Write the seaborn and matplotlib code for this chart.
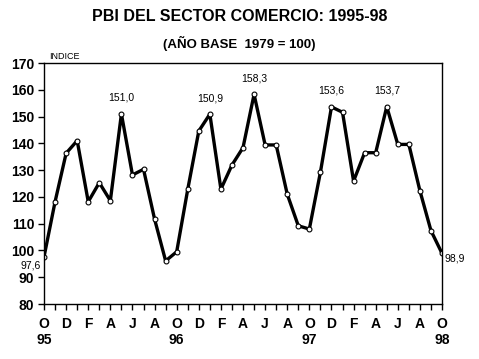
import pandas as pd
import seaborn as sns
import matplotlib.pyplot as plt

# monthly index, Oct 1995 .. Oct 1998
meses = ["O", "N", "D", "E", "F", "M", "A", "M", "J", "J", "A", "S"] * 3 + ["O"]
indice = [97.6, 118.2, 136.3, 141.0, 118.2, 125.3, 118.6, 151.0, 128.2, 130.3,
          111.7, 96.1, 99.5, 122.8, 144.6, 150.9, 122.9, 131.9, 138.4, 158.3,
          139.4, 139.4, 121.0, 109.2, 108.0, 129.2, 153.6, 151.6, 125.9, 136.5,
          136.5, 153.7, 139.6, 139.6, 122.3, 107.4, 98.9]
anios = {0: "95", 12: "96", 24: "97", 36: "98"}
etiquetas = {0: "97,6", 7: "151,0", 15: "150,9", 19: "158,3",
             26: "153,6", 31: "153,7", 36: "98,9"}

df = pd.DataFrame({"t": range(len(indice)), "indice": indice})

sns.set_style("white")
plt.rcParams["font.family"] = ["Liberation Sans", "DejaVu Sans"]
plt.rcParams["text.color"] = "black"
plt.rcParams["xtick.color"] = "black"
plt.rcParams["ytick.color"] = "black"

fig = plt.figure(figsize=(4.79, 3.59), dpi=100)
ax = fig.add_axes([0.0919, 0.1532, 0.8309, 0.6713])

sns.lineplot(data=df, x="t", y="indice", ax=ax, color="black", linewidth=2.4,
             marker="o", markersize=3.5, markerfacecolor="white",
             markeredgecolor="black", markeredgewidth=0.8)

ax.set_xlim(0, 36)
ax.set_ylim(80, 170)
ax.set_yticks(range(80, 171, 10))
ax.set_xticks(range(0, 37))
labs = []
for i, m in enumerate(meses):
    if i % 2 == 0:
        labs.append(m + ("\n" + anios[i] if i in anios else "\n"))
    else:
        labs.append("")
ax.set_xticklabels(labs, fontsize=10, fontweight="bold", linespacing=1.25)
for lab in ax.get_yticklabels():
    lab.set_fontsize(10)
    lab.set_fontweight("bold")
ax.tick_params(axis="both", direction="out", length=4, width=1, color="black",
               labelcolor="black", bottom=True, left=True, pad=3)
ax.tick_params(axis="x", pad=5)
for s in ax.spines.values():
    s.set_color("black")
    s.set_linewidth(1)
ax.set_xlabel("")
ax.set_ylabel("")

for i, txt in etiquetas.items():
    if i == 0:
        ax.annotate(txt, (i, indice[i]), xytext=(-2, -6), textcoords="offset points",
                    ha="right", va="center", fontsize=7.5)
    elif i == 36:
        ax.annotate(txt, (i, indice[i]), xytext=(2, -4), textcoords="offset points",
                    ha="left", va="center", fontsize=7.5)
    else:
        ax.annotate(txt, (i, indice[i]), xytext=(0, 8), textcoords="offset points",
                    ha="center", va="bottom", fontsize=7.5)

fig.text(0.5, 0.953, "PBI DEL SECTOR COMERCIO: 1995-98", ha="center", va="center",
         fontsize=11.5, fontweight="bold")
fig.text(0.5, 0.88, "(AÑO BASE  1979 = 100)", ha="center", va="center",
         fontsize=9.5, fontweight="bold")
fig.text(0.102, 0.843, "INDICE", ha="left", va="center", fontsize=6.5)

fig.savefig("out.png", dpi=100)
